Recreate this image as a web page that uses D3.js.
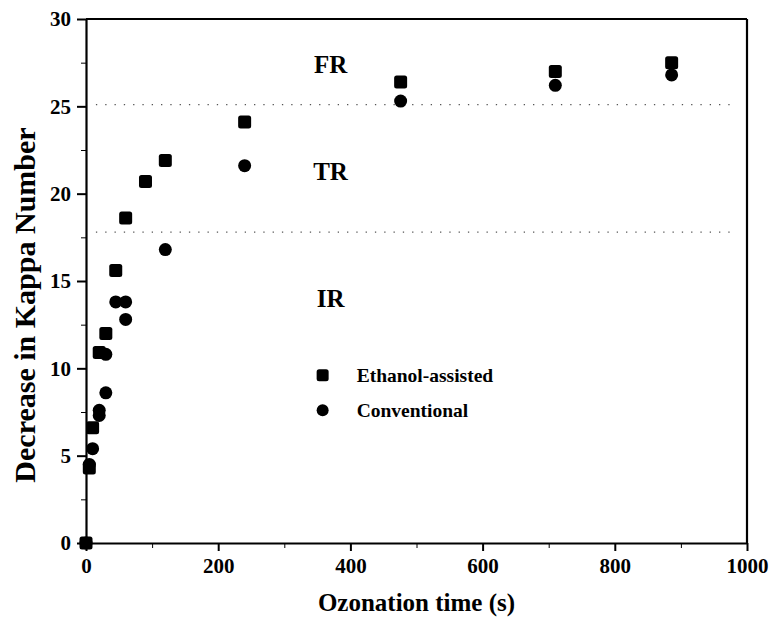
<!DOCTYPE html>
<html>
<head>
<meta charset="utf-8">
<script src="https://cdn.jsdelivr.net/npm/d3@7"></script>
<style>
  body { margin: 0; background: #fff; }
  svg { display: block; }
  text { font-family: "Liberation Serif", "DejaVu Serif", serif; fill: #000; }
</style>
</head>
<body>
<script>
// ethanol-assisted ozonation (squares)
const ethanolTime  = [0, 5, 10, 20, 30, 45, 60, 90, 120, 240, 476, 710, 886];
const ethanolKappa = [0, 4.3, 6.6, 10.9, 12.0, 15.6, 18.6, 20.7, 21.9, 24.1, 26.4, 27.0, 27.5];

// conventional ozonation (circles)
const convTime  = [0, 5, 10, 20, 20, 30, 30, 45, 60, 60, 120, 240, 476, 710, 886];
const convKappa = [0, 4.5, 5.4, 7.3, 7.6, 8.6, 10.8, 13.8, 13.8, 12.8, 16.8, 21.6, 25.3, 26.2, 26.8];

// region borders and labels
const regionBorders = [17.8, 25.1];
const regionNames = ["IR", "TR", "FR"];
const regionLabelY = [14, 21.3, 27.4];

const xTicks = [0, 200, 400, 600, 800, 1000];
const yTicks = [0, 5, 10, 15, 20, 25, 30];

const legendNames = ["Ethanol-assisted", "Conventional"];

const outerWidth = 771;
const outerHeight = 625;
const margin = { left: 86, top: 19, right: 24, bottom: 82 };
const innerWidth = outerWidth - margin.left - margin.right;
const innerHeight = outerHeight - margin.top - margin.bottom;

const svg = d3.select('body')
  .append('svg')
    .attr('width', outerWidth)
    .attr('height', outerHeight);

const g = svg.append('g')
  .attr('transform', `translate(${margin.left},${margin.top})`);

const xScale = d3.scaleLinear()
  .domain([0, 1000])
  .range([0, innerWidth]);

const yScale = d3.scaleLinear()
  .domain([0, 30])
  .range([innerHeight, 0]);

// dotted region borders
g.selectAll('.border')
  .data(regionBorders)
  .join('line')
    .attr('class', 'border')
    .attr('x1', xScale(15))
    .attr('x2', xScale(980))
    .attr('y1', d => yScale(d))
    .attr('y2', d => yScale(d))
    .attr('stroke', '#555')
    .attr('stroke-width', 1.3)
    .attr('stroke-dasharray', '1.3,8');

// minor ticks
g.append('g')
  .attr('transform', `translate(0,${innerHeight})`)
  .call(d3.axisBottom(xScale).tickValues(d3.range(100, 1000, 200)).tickSize(5).tickFormat(''))
  .call(a => a.select('.domain').remove());

g.append('g')
  .call(d3.axisLeft(yScale).tickValues(d3.range(2.5, 30, 5)).tickSize(5).tickFormat(''))
  .call(a => a.select('.domain').remove());

// main axes
const xAxisG = g.append('g')
  .attr('transform', `translate(0,${innerHeight})`)
  .call(d3.axisBottom(xScale).tickValues(xTicks).tickSize(8).tickSizeOuter(0).tickPadding(7).tickFormat(d3.format('d')));

const yAxisG = g.append('g')
  .call(d3.axisLeft(yScale).tickValues(yTicks).tickSize(9).tickSizeOuter(0).tickPadding(6));

[xAxisG, yAxisG].forEach(a => {
  a.selectAll('text')
    .style('font-family', '"Liberation Serif", serif')
    .style('font-size', '21px')
    .style('font-weight', 'bold');
  a.selectAll('line').attr('stroke-width', 2);
  a.select('.domain').attr('stroke-width', 2.2);
});

// top and right frame
g.append('line')
  .attr('x1', 0).attr('x2', innerWidth).attr('y1', 0).attr('y2', 0)
  .attr('stroke', '#000').attr('stroke-width', 2.2);
g.append('line')
  .attr('x1', innerWidth).attr('x2', innerWidth).attr('y1', 0).attr('y2', innerHeight)
  .attr('stroke', '#000').attr('stroke-width', 2.2);

// region labels
g.selectAll('.region')
  .data(regionNames)
  .join('text')
    .attr('class', 'region')
    .attr('x', xScale(370))
    .attr('y', (d, i) => yScale(regionLabelY[i]))
    .attr('text-anchor', 'middle')
    .attr('dy', '0.35em')
    .style('font-size', '25px')
    .style('font-weight', 'bold')
    .text(d => d);

// data points
const ms = 13;
const conventional = convTime.map((t, i) => ({ t, k: convKappa[i] }));
const ethanol = ethanolTime.map((t, i) => ({ t, k: ethanolKappa[i] }));

g.selectAll('.conv')
  .data(conventional)
  .join('circle')
    .attr('class', 'conv')
    .attr('cx', d => xScale(d.t))
    .attr('cy', d => yScale(d.k))
    .attr('r', ms / 2)
    .attr('fill', '#000');

g.selectAll('.eth')
  .data(ethanol)
  .join('rect')
    .attr('class', 'eth')
    .attr('x', d => xScale(d.t) - ms / 2)
    .attr('y', d => yScale(d.k) - ms / 2)
    .attr('width', ms)
    .attr('height', ms)
    .attr('rx', 2.5)
    .attr('fill', '#000');

// legend
const legendG = g.append('g')
  .attr('transform', `translate(${xScale(358)},${yScale(9.6)})`);

const legendItem = legendG.selectAll('g')
  .data(legendNames)
  .join('g')
    .attr('transform', (d, i) => `translate(0,${i * 35})`);

legendItem.filter((d, i) => i === 0)
  .append('rect')
  .attr('x', -6).attr('y', -6)
  .attr('width', 12).attr('height', 12)
  .attr('rx', 2.5)
  .attr('fill', '#000');

legendItem.filter((d, i) => i === 1)
  .append('circle')
  .attr('r', 6)
  .attr('fill', '#000');

legendItem.append('text')
  .attr('x', 34)
  .attr('dy', '0.35em')
  .style('font-size', '19.5px')
  .style('font-weight', 'bold')
  .text(d => d);

// axis titles
svg.append('text')
  .attr('x', margin.left + innerWidth / 2)
  .attr('y', 611)
  .attr('text-anchor', 'middle')
  .style('font-size', '25px')
  .style('font-weight', 'bold')
  .text('Ozonation time (s)');

svg.append('text')
  .attr('transform', `translate(35,${margin.top + innerHeight / 2 + 24}) rotate(-90)`)
  .attr('text-anchor', 'middle')
  .style('font-size', '30px')
  .style('font-weight', 'bold')
  .text('Decrease in Kappa Number');
</script>
</body>
</html>
